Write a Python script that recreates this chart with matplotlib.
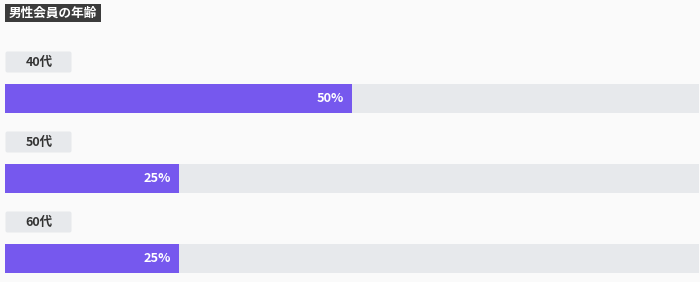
import matplotlib
matplotlib.use("Agg")
import matplotlib.pyplot as plt
from matplotlib.patches import Rectangle, FancyBboxPatch

plt.rcParams['font.family'] = ['Noto Sans CJK JP', 'DejaVu Sans']

title = "男性会員の年齢"
categories = ["40代", "50代", "60代"]
values = [50, 25, 25]

W, H = 700, 282
fig = plt.figure(figsize=(W / 100, H / 100), dpi=100)
fig.patch.set_facecolor("#fafafa")

# decoration axes in pixel coordinates
deco = fig.add_axes([0, 0, 1, 1])
deco.set_xlim(0, W)
deco.set_ylim(H, 0)
deco.axis("off")

# title box
deco.add_patch(Rectangle((5, 4), 96, 18, facecolor="#3b3b3b", edgecolor="none"))
deco.text(53, 13, title, color="white", fontsize=9.1, fontweight="bold",
          ha="center", va="center")

# bars axes
ax = fig.add_axes([5 / W, 0, 694 / W, 1])
ax.set_xlim(0, 100)
ax.set_ylim(H, 0)
ax.axis("off")
ax.patch.set_alpha(0)

row0 = 51
step = 80
for i, (cat, v) in enumerate(zip(categories, values)):
    top = row0 + i * step
    deco.add_patch(FancyBboxPatch((5.5, top + 0.5), 66, 21,
                                  boxstyle="round,pad=0,rounding_size=2",
                                  facecolor="#e7e9ec", edgecolor="none"))
    deco.text(39, top + 11.5, cat, color="#333333", fontsize=9, fontweight="bold",
              ha="center", va="center")
    yc = top + 33 + 14.5
    ax.barh(yc, 100, height=29, color="#e7e9ec", edgecolor="none")
    ax.barh(yc, v, height=29, color="#7658ee", edgecolor="none")
    ax.annotate(f"{v}%", xy=(v, yc), xytext=(-8, 0), textcoords="offset pixels",
                color="white", fontsize=9.2, fontweight="bold", ha="right", va="center")

fig.savefig("out.png", dpi=100, facecolor=fig.get_facecolor())
